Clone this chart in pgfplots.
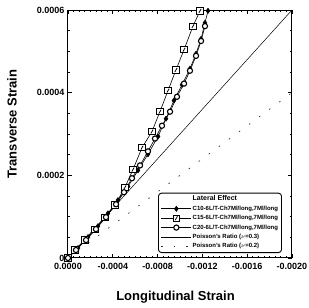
\documentclass[border=0pt]{standalone}
\usepackage{fontspec}
\setmainfont{Liberation Sans}
\usepackage{pgfplots}
\pgfplotsset{compat=1.18}
\pgfdeclareplotmark{sqs}{%
  \pgfpathrectangle{\pgfpoint{-\pgfplotmarksize}{-\pgfplotmarksize}}{\pgfpoint{2\pgfplotmarksize}{2\pgfplotmarksize}}%
  \pgfusepathqfillstroke
  \pgfpathmoveto{\pgfpoint{-0.35\pgfplotmarksize}{-0.6\pgfplotmarksize}}%
  \pgfpathlineto{\pgfpoint{0.35\pgfplotmarksize}{0.6\pgfplotmarksize}}%
  \pgfusepathqstroke}
\begin{document}
\begin{tikzpicture}
\begin{axis}[
  scale only axis, width=224pt, height=248pt,
  x dir=reverse, xmin=-0.002, xmax=0, ymin=0, ymax=0.0006,
  xtick={0,-0.0004,-0.0008,-0.0012,-0.0016,-0.002},
  xticklabels={0.0000,-0.0004,-0.0008,-0.0012,-0.0016,-0.0020},
  ytick={0,0.0002,0.0004,0.0006},
  yticklabels={0,0.0002,0.0004,0.0006},
  scaled ticks=false,
  minor x tick num=7, minor y tick num=3,
  tick align=inside, major tick length=4pt, minor tick length=2pt,
  axis line style={line width=1pt},
  every tick/.style={black, line width=0.6pt},
  ticklabel style={font=\fontsize{9}{10}\selectfont\bfseries},
  xticklabel style={yshift=-2pt},
  xlabel={Longitudinal Strain}, ylabel={Transverse Strain},
  label style={font=\fontsize{13}{15}\selectfont\bfseries},
  xlabel style={at={(axis description cs:0.48,0)}, anchor=center, yshift=-39pt},
  ylabel style={at={(axis description cs:-0.25,0.54)}, anchor=center},
  legend image code/.code={\draw[mark repeat=2,mark phase=2] plot coordinates {(0pt,0pt)(15pt,0pt)(30pt,0pt)};},
  legend style={at={(rel axis cs:0.402,0.02)}, anchor=south west, draw=black, line width=0.9pt,
    rounded corners=3pt, font=\fontsize{6}{6.5}\selectfont\bfseries, cells={anchor=west},
    row sep=2pt, inner sep=2.5pt,
    nodes={inner sep=1pt, text height=4.2pt, text depth=1.2pt}},
]
\addlegendimage{empty legend}
\addlegendentry{\fontsize{7}{8}\selectfont Lateral Effect}

\addplot[black, line width=0.6pt, mark=diamond*, mark size=2.6pt, mark options={fill=black, line width=0.5pt}] coordinates {
(0,0) (-0.0000893,0.0000241) (-0.000179,0.0000506) (-0.000268,0.0000771) (-0.000357,0.000108)
(-0.000446,0.000140) (-0.000536,0.000173) (-0.000625,0.000212) (-0.000714,0.000251)
(-0.000804,0.000294) (-0.000875,0.000337) (-0.000946,0.000381) (-0.001018,0.000419)
(-0.001089,0.000458) (-0.001143,0.000494) (-0.001188,0.000530) (-0.001223,0.000569) (-0.001250,0.000598)};
\addlegendentry{C10-6L/T-Ch7Ml/long,7Ml/long}

\addplot[black, line width=0.6pt, mark=sqs, mark size=3.2pt, mark options={fill=white, line width=0.8pt}] coordinates {
(0,0) (-0.0000625,0.0000193) (-0.000152,0.0000434) (-0.000241,0.0000699) (-0.000330,0.0000988)
(-0.000420,0.000128) (-0.000509,0.000171) (-0.000580,0.000214) (-0.000661,0.000267)
(-0.000750,0.000306) (-0.000821,0.000354) (-0.000893,0.000405) (-0.000964,0.000455)
(-0.001036,0.000504) (-0.001116,0.000561) (-0.001179,0.000598)};
\addlegendentry{C15-6L/T-Ch7Ml/long,7Ml/long}

\addplot[black, line width=0.6pt, mark=*, mark size=2.6pt, mark options={fill=white, line width=1.1pt}] coordinates {
(0,0) (-0.0000714,0.0000193) (-0.000161,0.0000434) (-0.000250,0.0000699) (-0.000339,0.0000988)
(-0.000429,0.000130) (-0.0005,0.000159) (-0.000571,0.000193) (-0.000643,0.000224)
(-0.000714,0.000258) (-0.000777,0.000289) (-0.000839,0.000320) (-0.000911,0.000354)
(-0.000973,0.000390) (-0.001036,0.000422) (-0.001089,0.000453) (-0.001143,0.000489)
(-0.001188,0.000525) (-0.001223,0.000561)};
\addlegendentry{C20-6L/T-Ch7Ml/long,7Ml/long}

\addplot[black, line width=0.5pt, no marks] coordinates {(0,0) (-0.002,0.0006)};
\addlegendentry{Poisson's Ratio ($\nu$=0.3)}

\addplot[black!80, line width=0.7pt, no marks, dash pattern=on 1.5pt off 11pt] coordinates {(0,0) (-0.002,0.0004)};
\addlegendentry{Poisson's Ratio ($\nu$=0.2)}
\end{axis}
\pgfresetboundingbox
\path[use as bounding box] (-68pt,-50pt) rectangle (241pt,258pt);
\end{tikzpicture}
\end{document}
